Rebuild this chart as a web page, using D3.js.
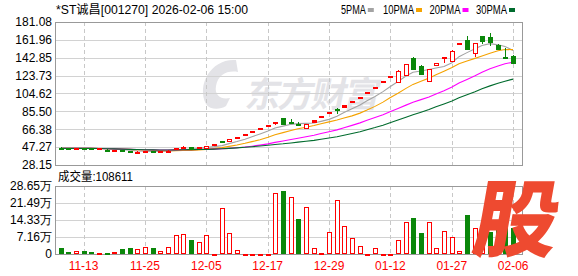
<!DOCTYPE html>
<html>
<head>
<meta charset="utf-8">
<script src="https://cdn.jsdelivr.net/npm/d3@7"></script>
<style>
body { margin: 0; background: #fff; }
svg { display: block; font-family: "Liberation Sans", "Noto Sans CJK SC", sans-serif; }
</style>
</head>
<body>
<div id="kChart"></div>
<script>
const title = "*ST诚昌[001270] 2026-02-06 15:00";
const lastVolume = "108611";

const dates = ["11-10","11-11","11-12","11-13","11-14","11-17","11-18","11-19","11-20","11-21",
    "11-24","11-25","11-26","11-27","11-28","12-01","12-02","12-03","12-04","12-05",
    "12-08","12-09","12-10","12-11","12-12","12-15","12-16","12-17","12-18","12-19",
    "12-22","12-23","12-24","12-25","12-26","12-29","12-30","12-31","01-05","01-06",
    "01-07","01-08","01-09","01-12","01-16","01-19","01-20","01-21","01-22","01-23",
    "01-26","01-27","01-28","01-29","01-30","02-02","02-03","02-04","02-05","02-06"];

const opens = [46.6,46.1,45.8,46.2,45.9,45.6,44.6,44.0,44.2,43.0,
    41.9,42.3,42.8,42.3,42.8,45.3,46.8,47.4,46.8,46.3,
    50.9,53.4,53.2,58.2,61.2,64.3,67.5,70.9,74.0,78.1,
    74.4,72.3,67.4,74.2,80.5,83.8,88.5,90.0,96.2,100.8,
    106.2,110.8,117.7,123.0,117.0,124.1,142.6,134.0,118.0,135.4,
    143.0,139.7,157.5,161.8,147.2,166.1,165.4,156.5,143.8,144.7];
const highs = [46.9,46.3,46.2,46.6,46.0,45.9,44.8,44.3,44.4,43.2,
    42.6,42.9,43.0,42.9,43.8,46.8,48.3,47.8,47.3,48.6,
    50.9,53.5,55.6,58.3,61.2,64.3,67.5,70.9,74.4,78.1,
    77.0,74.3,72.5,76.2,80.5,84.5,88.6,92.2,96.8,101.3,
    106.2,111.2,117.7,123.0,129.4,136.0,143.9,135.0,131.0,137.6,
    143.3,150.8,158.3,166.5,158.4,166.1,169.6,157.2,153.5,146.1];
const lows = [45.8,45.6,45.6,45.8,45.5,45.4,43.8,43.8,43.0,42.0,
    40.8,42.0,42.2,42.1,42.6,45.2,46.5,44.8,46.5,46.2,
    50.9,52.4,53.0,57.9,61.2,64.3,67.5,70.9,71.3,71.0,
    72.8,71.2,67.0,74.0,80.5,83.4,82.7,89.8,96.0,99.8,
    106.2,110.5,117.7,123.0,116.6,123.8,129.7,124.5,117.5,134.8,
    137.0,139.5,156.8,151.2,144.0,157.6,155.4,151.4,143.0,136.3];
const closes = [46.0,45.8,46.0,45.9,45.7,45.8,44.0,44.2,43.2,42.3,
    42.4,42.7,42.4,42.8,43.6,46.6,47.4,45.0,47.2,48.5,
    50.9,52.9,55.5,58.3,61.2,64.3,67.5,70.9,74.4,71.6,
    73.8,71.5,72.2,76.2,80.5,84.3,88.0,92.0,96.6,101.2,
    106.2,111.2,117.7,123.0,129.2,135.8,130.8,125.0,130.5,137.6,
    143.3,150.5,158.2,152.0,158.2,161.1,160.0,152.0,143.3,137.0];
// volume in 万手
const volumes = [2.5,0.9,1.1,1.3,0.9,0.5,0.5,0.7,2.1,2.5,
    2.3,2.8,2.5,1.1,2.8,7.9,8.3,5.9,4.9,7.9,
    0.2,19.2,8.7,1.5,0.2,0.2,0.2,0.2,25.9,26.5,
    24.0,14.7,19.8,2.4,0.4,9.1,22.6,11.7,6.6,3.2,
    0.2,2.4,0.2,0.2,5.8,13.4,15.2,8.8,13.4,2.4,
    9.6,7.0,1.1,16.4,11.0,9.3,9.3,11.0,12.6,10.86];

const priceTicks = [181.08,161.96,142.85,123.73,104.62,85.50,66.38,47.27,28.15];
const volTicks = [28.65,21.49,14.33,7.16,0];
const tickDates = ["11-13","11-25","12-05","12-17","12-29","01-12","01-27","02-06"];
const maPeriods = [5,10,20,30];
const maColors = ["#a3a3a3","#f5a300","#ff00ff","#006b2d"];

const width = 578, height = 276;
const plot = {left: 55, right: 522, top: 22, bottom: 165};
const volPlot = {top: 186, bottom: 254};
const RED = "#ff0000", GREEN = "#0a870a", GRID = "#d2d2d2", FRAME = "#999999";

const rows = dates.map((d, i) => ({date: d, o: opens[i], h: highs[i], l: lows[i], c: closes[i], v: volumes[i],
    prev: i > 0 ? closes[i - 1] : opens[i]}));

const svg = d3.select("#kChart")
    .append("svg")
    .attr("width", width)
    .attr("height", height);

const x = d3.scaleBand()
    .domain(dates)
    .range([56.7, 517]);
const cx = d => Math.round(x(d) + x.bandwidth() / 2);

const y = d3.scaleLinear()
    .domain([28.15, 181.08])
    .range([plot.bottom, plot.top]);

const yv = d3.scaleLinear()
    .domain([0, 28.65])
    .range([volPlot.bottom, volPlot.top]);

// watermark
const wm = svg.append("g").attr("fill", "#e3e3e7");
wm.append("path")
    .attr("d", "M236,60 C212,58 196,84 206,104 C210,110 220,110 226,106 L230,98 C222,100 214,96 216,86 C218,74 228,70 238,72 Z");
wm.append("text")
    .attr("transform", "translate(244,107) skewX(-12)")
    .style("font-family", "Noto Sans CJK SC")
    .style("font-weight", "bold")
    .style("font-size", "35px")
    .style("letter-spacing", "-2px")
    .text("东方财富");

// horizontal grid + price labels
const priceAxis = svg.append("g")
    .attr("transform", `translate(${plot.left},0)`)
    .call(d3.axisLeft(y)
        .tickValues(priceTicks)
        .tickSize(-(plot.right - plot.left))
        .tickPadding(3)
        .tickFormat(d3.format(".2f")));
priceAxis.select(".domain").remove();
priceAxis.selectAll("line").attr("stroke", GRID).attr("shape-rendering", "crispEdges");
priceAxis.selectAll("text").style("font-size", "12px").attr("fill", "#000");

const volAxis = svg.append("g")
    .attr("transform", `translate(${plot.left},0)`)
    .call(d3.axisLeft(yv)
        .tickValues(volTicks)
        .tickSize(-(plot.right - plot.left))
        .tickPadding(3)
        .tickFormat(d => d === 0 ? "0" : d.toFixed(2) + "万"));
volAxis.select(".domain").remove();
volAxis.selectAll("line").attr("stroke", GRID).attr("shape-rendering", "crispEdges");
volAxis.selectAll("text").style("font-size", "12px").attr("fill", "#000");

// vertical dashed grid
[[plot.top, plot.bottom], [volPlot.top, volPlot.bottom]].forEach(([t, b]) => {
    svg.append("g")
        .selectAll("line")
        .data(tickDates)
        .enter()
        .append("line")
        .attr("x1", d => cx(d) + 0.5)
        .attr("x2", d => cx(d) + 0.5)
        .attr("y1", t)
        .attr("y2", b)
        .attr("stroke", "#c8c8c8")
        .attr("stroke-dasharray", "4,3");
});

// x labels
const xAxis = svg.append("g")
    .attr("transform", `translate(0,${volPlot.bottom})`)
    .call(d3.axisBottom(x).tickValues(tickDates).tickSize(0).tickPadding(4));
xAxis.select(".domain").remove();
xAxis.selectAll("text")
    .attr("fill", RED)
    .attr("dy", "0")
    .attr("y", 16)
    .style("font-size", "12px");

// frames
[[plot.top, plot.bottom], [volPlot.top, volPlot.bottom]].forEach(([t, b]) => {
    svg.append("rect")
        .attr("x", plot.left + 0.5)
        .attr("y", t + 0.5)
        .attr("width", plot.right - plot.left)
        .attr("height", b - t)
        .attr("fill", "none")
        .attr("stroke", FRAME);
});

// moving averages
function movingAvg(n) {
    return closes.map((c, i) => d3.mean(closes.slice(Math.max(0, i - n + 1), i + 1)));
}
maPeriods.forEach((n, k) => {
    const ma = movingAvg(n);
    svg.append("path")
        .datum(dates)
        .attr("fill", "none")
        .attr("stroke", maColors[k])
        .attr("stroke-width", 1.1)
        .attr("d", d3.line().x(d => cx(d)).y((d, i) => y(ma[i])));
});

// candles
const candleUp = d => d.c > d.o || (d.c === d.o && d.c >= d.prev);
const candles = svg.append("g").attr("shape-rendering", "crispEdges");
candles.selectAll("line")
    .data(rows)
    .enter()
    .append("line")
    .attr("x1", d => cx(d.date) + 0.5)
    .attr("x2", d => cx(d.date) + 0.5)
    .attr("y1", d => y(d.h))
    .attr("y2", d => y(d.l))
    .attr("stroke", d => candleUp(d) ? RED : GREEN);
candles.selectAll("rect")
    .data(rows)
    .enter()
    .append("rect")
    .attr("x", d => cx(d.date) - 1.5)
    .attr("width", 4)
    .attr("y", d => Math.round(y(Math.max(d.o, d.c))) + 0.5)
    .attr("height", d => Math.max(1, Math.round(Math.abs(y(d.o) - y(d.c)))))
    .attr("fill", d => {
        const hgt = Math.abs(y(d.o) - y(d.c));
        if (!candleUp(d)) return GREEN;
        return hgt < 2 ? RED : "#fff";
    })
    .attr("stroke", d => candleUp(d) ? RED : GREEN);

// volume bars, coloured by change vs previous close
const volUp = d => d.c >= d.prev;
svg.append("g")
    .attr("shape-rendering", "crispEdges")
    .selectAll("rect")
    .data(rows)
    .enter()
    .append("rect")
    .attr("x", d => cx(d.date) - 1.5)
    .attr("width", 4)
    .attr("y", d => Math.round(yv(d.v)) + 0.5)
    .attr("height", d => Math.max(1, Math.round(yv(0) - yv(d.v)) - 1))
    .attr("fill", d => volUp(d) ? (yv(0) - yv(d.v) < 2 ? RED : "#fff") : GREEN)
    .attr("stroke", d => volUp(d) ? RED : GREEN);

// header
svg.append("text")
    .attr("x", 56)
    .attr("y", 14)
    .attr("textLength", 192)
    .attr("lengthAdjust", "spacingAndGlyphs")
    .style("font-size", "12px")
    .text(title);

const legend = svg.append("g");
const legendX = [341, 383, 429.5, 476];
maPeriods.forEach((n, k) => {
    const label = n + "PMA";
    legend.append("text")
        .attr("x", legendX[k])
        .attr("y", 14)
        .attr("textLength", label.length * 6.2)
        .attr("lengthAdjust", "spacingAndGlyphs")
        .style("font-size", "12px")
        .text(label);
    legend.append("rect")
        .attr("x", legendX[k] + label.length * 6.2 + 2)
        .attr("y", 8)
        .attr("width", 6)
        .attr("height", 4)
        .attr("fill", maColors[k]);
});

svg.append("text")
    .attr("x", 58)
    .attr("y", 181)
    .attr("textLength", 75)
    .attr("lengthAdjust", "spacingAndGlyphs")
    .style("font-size", "12px")
    .text("成交量:" + lastVolume);

// 股 badge
svg.append("text")
    .attr("transform", "translate(470,250) skewX(-10)")
    .attr("fill", "#ee4a30")
    .style("font-family", "Noto Sans CJK SC")
    .style("font-weight", "900")
    .style("font-size", "84px")
    .text("股");
</script>
</body>
</html>
